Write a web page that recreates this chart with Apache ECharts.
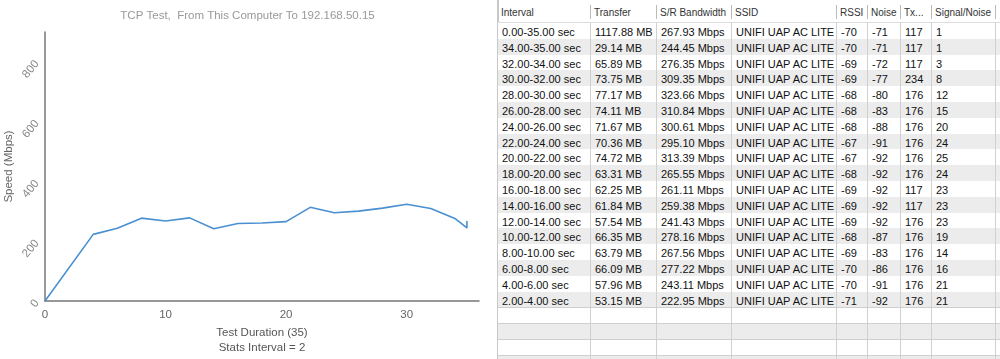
<!DOCTYPE html>
<html>
<head>
<meta charset="utf-8">
<script src="https://cdn.jsdelivr.net/npm/echarts@6/dist/echarts.min.js"></script>
<style>
  html, body { margin: 0; padding: 0; background: #fff; }
  body { width: 1000px; height: 359px; overflow: hidden; position: relative;
         font-family: "Helvetica Neue", Helvetica, "Liberation Sans", Arial, sans-serif; }
  #chart { position: absolute; left: 0; top: 0; width: 495px; height: 359px; }
  #table { position: absolute; left: 497px; top: 0; width: 503px; height: 359px; overflow: hidden; }
  .row { position: absolute; left: 0; width: 503px; box-sizing: border-box; }
  .cell { position: absolute; top: 0; white-space: nowrap; overflow: hidden; box-sizing: border-box; padding-left: 4px; }
</style>
</head>
<body>
<div id="chart"></div>
<div id="table"></div>
<script>
// ---- data ----
const headers = ['Interval', 'Transfer', 'S/R Bandwidth', 'SSID', 'RSSI', 'Noise', 'Tx...', 'Signal/Noise'];
const intervalStart = [0, 34, 32, 30, 28, 26, 24, 22, 20, 18, 16, 14, 12, 10, 8, 6, 4, 2];
const intervalEnd   = [35, 35, 34, 32, 30, 28, 26, 24, 22, 20, 18, 16, 14, 12, 10, 8, 6, 4];
const transferMB = [1117.88, 29.14, 65.89, 73.75, 77.17, 74.11, 71.67, 70.36, 74.72, 63.31, 62.25, 61.84, 57.54, 66.35, 63.79, 66.09, 57.96, 53.15];
const bandwidthMbps = [267.93, 244.45, 276.35, 309.35, 323.66, 310.84, 300.61, 295.10, 313.39, 265.55, 261.11, 259.38, 241.43, 278.16, 267.56, 277.22, 243.11, 222.95];
const ssidNames = ['UNIFI UAP AC LITE', 'UNIFI UAP AC LITE', 'UNIFI UAP AC LITE', 'UNIFI UAP AC LITE', 'UNIFI UAP AC LITE', 'UNIFI UAP AC LITE', 'UNIFI UAP AC LITE', 'UNIFI UAP AC LITE', 'UNIFI UAP AC LITE', 'UNIFI UAP AC LITE', 'UNIFI UAP AC LITE', 'UNIFI UAP AC LITE', 'UNIFI UAP AC LITE', 'UNIFI UAP AC LITE', 'UNIFI UAP AC LITE', 'UNIFI UAP AC LITE', 'UNIFI UAP AC LITE', 'UNIFI UAP AC LITE'];
const rssi = [-70, -70, -69, -69, -68, -68, -68, -67, -67, -68, -69, -69, -69, -68, -69, -70, -70, -71];
const noise = [-71, -71, -72, -77, -80, -83, -88, -91, -92, -92, -92, -92, -92, -87, -83, -86, -91, -92];
const txRate = [117, 117, 117, 234, 176, 176, 176, 176, 176, 176, 117, 117, 176, 176, 176, 176, 176, 176];
const signalNoise = [1, 1, 3, 8, 12, 15, 20, 24, 25, 24, 23, 23, 23, 19, 14, 16, 21, 21];
const startPoint = [0, 0];
const xTicks = [0, 10, 20, 30];
const yTicks = [0, 200, 400, 600, 800];
const chartTitle = 'TCP Test,  From This Computer To 192.168.50.15';
const xName = 'Test Duration (35)\nStats Interval = 2';
const yName = 'Speed (Mbps)';

// ---- chart ----
// row 0 is the summary row; others are per-interval rows
const perInterval = [];
for (let i = 1; i < intervalEnd.length; i++) perInterval.push([intervalEnd[i], bandwidthMbps[i]]);
perInterval.sort((a, b) => a[0] - b[0]);
const lineData = [startPoint].concat(perInterval).concat([[intervalEnd[0], bandwidthMbps[0]]]);

const chart = echarts.init(document.getElementById('chart'), null, { renderer: 'canvas' });
const FONT = '"Helvetica Neue", Helvetica, "Liberation Sans", Arial, sans-serif';
chart.setOption({
  animation: false,
  title: {
    text: chartTitle, left: 'center', top: 10, padding: 0,
    textStyle: { fontSize: 11.5, fontWeight: 'normal', color: '#999', fontFamily: FONT }
  },
  grid: { left: 45, right: 16, top: 32, bottom: 58, containLabel: false, outerBoundsMode: 'none' },
  xAxis: {
    type: 'value', min: 0, max: 36, interval: 10,
    name: xName, nameLocation: 'middle', nameGap: 24, nameMoveOverlap: false,
    nameTextStyle: { fontSize: 11.5, color: '#555', lineHeight: 15, fontFamily: FONT },
    axisLine: { show: true, lineStyle: { color: '#777', width: 1.5 } },
    axisTick: { show: false },
    splitLine: { show: false },
    axisLabel: {
      fontSize: 11.5, color: '#666', margin: 8, fontFamily: FONT, showMaxLabel: false,
      formatter: v => xTicks.indexOf(v) >= 0 ? String(v) : ''
    }
  },
  yAxis: {
    type: 'value', min: 0, max: 900, interval: 200,
    name: yName, nameLocation: 'middle', nameGap: 30, nameRotate: 90, nameMoveOverlap: false,
    nameTextStyle: { fontSize: 11.5, color: '#666', fontFamily: FONT },
    axisLine: { show: true, lineStyle: { color: '#777', width: 1.5 } },
    axisTick: { show: false },
    splitLine: { show: false },
    axisLabel: {
      fontSize: 11.5, color: '#888', rotate: 50, margin: 8, fontFamily: FONT, showMaxLabel: false,
      formatter: v => yTicks.indexOf(v) >= 0 ? String(v) : ''
    }
  },
  series: [{
    type: 'line', data: lineData, showSymbol: false, symbol: 'none',
    lineStyle: { color: '#4a8fd1', width: 1.6 },
    itemStyle: { color: '#4a8fd1' }
  }]
});

// ---- table ----
const colEdges = [0, 93, 159, 234, 339, 370, 403, 434, 498, 503];
const headerH = 23;
const rowH = 15.8;
const textShift = 2;
const tbl = document.getElementById('table');

function addRow(top, h, bg, cells, opts) {
  const r = document.createElement('div');
  r.className = 'row';
  r.style.top = top + 'px';
  r.style.height = h + 'px';
  r.style.background = bg;
  if (opts.borderTop) r.style.borderTop = '1px solid #cfcfcf';
  for (let c = 0; c < colEdges.length - 1; c++) {
    const d = document.createElement('div');
    d.className = 'cell';
    d.style.left = colEdges[c] + 'px';
    d.style.width = (colEdges[c + 1] - colEdges[c]) + 'px';
    d.style.height = h + 'px';
    d.style.lineHeight = h + 'px';
    d.style.paddingTop = (opts.shift || 0) + 'px';
    d.style.fontSize = opts.fontSize + 'px';
    d.style.color = opts.color;
    if (opts.header) {
      if (c > 0) {
        const s = document.createElement('div');
        s.style.cssText = 'position:absolute;left:0;top:5px;height:14px;width:1px;background:#bbb;';
        d.appendChild(s);
      }
    } else {
      d.style.borderLeft = c === 0 ? '1.5px solid #c8c8c8' : '1px solid #d0d0d0';
    }
    const t = document.createElement('span');
    t.textContent = cells[c] !== undefined ? cells[c] : '';
    d.appendChild(t);
    r.appendChild(d);
  }
  tbl.appendChild(r);
}

// header
addRow(0, headerH, '#fff', headers, { header: true, fontSize: 10, color: '#333', shift: 1 });
const lb = document.createElement('div');
lb.style.cssText = 'position:absolute;left:0;top:0;width:1.5px;height:' + headerH + 'px;background:#c8c8c8;';
tbl.appendChild(lb);
const hl = document.createElement('div');
hl.style.cssText = 'position:absolute;left:0;top:' + (headerH - 1) + 'px;width:503px;height:1px;background:#ddd;';
tbl.appendChild(hl);

for (let i = 0; i < intervalStart.length; i++) {
  const cells = [
    intervalStart[i].toFixed(2) + '-' + intervalEnd[i].toFixed(2) + ' sec',
    transferMB[i].toFixed(2) + ' MB',
    bandwidthMbps[i].toFixed(2) + ' Mbps',
    ssidNames[i],
    String(rssi[i]),
    String(noise[i]),
    String(txRate[i]),
    String(signalNoise[i])
  ];
  addRow(headerH + i * rowH, rowH, i % 2 === 0 ? '#fff' : '#ececec', cells, { fontSize: 11, color: '#111', shift: textShift });
}
for (let j = intervalStart.length; j < intervalStart.length + 4; j++) {
  addRow(headerH + j * rowH, rowH, j % 2 === 0 ? '#fff' : '#ececec', [], { fontSize: 11, color: '#111', borderTop: true });
}
</script>
</body>
</html>
